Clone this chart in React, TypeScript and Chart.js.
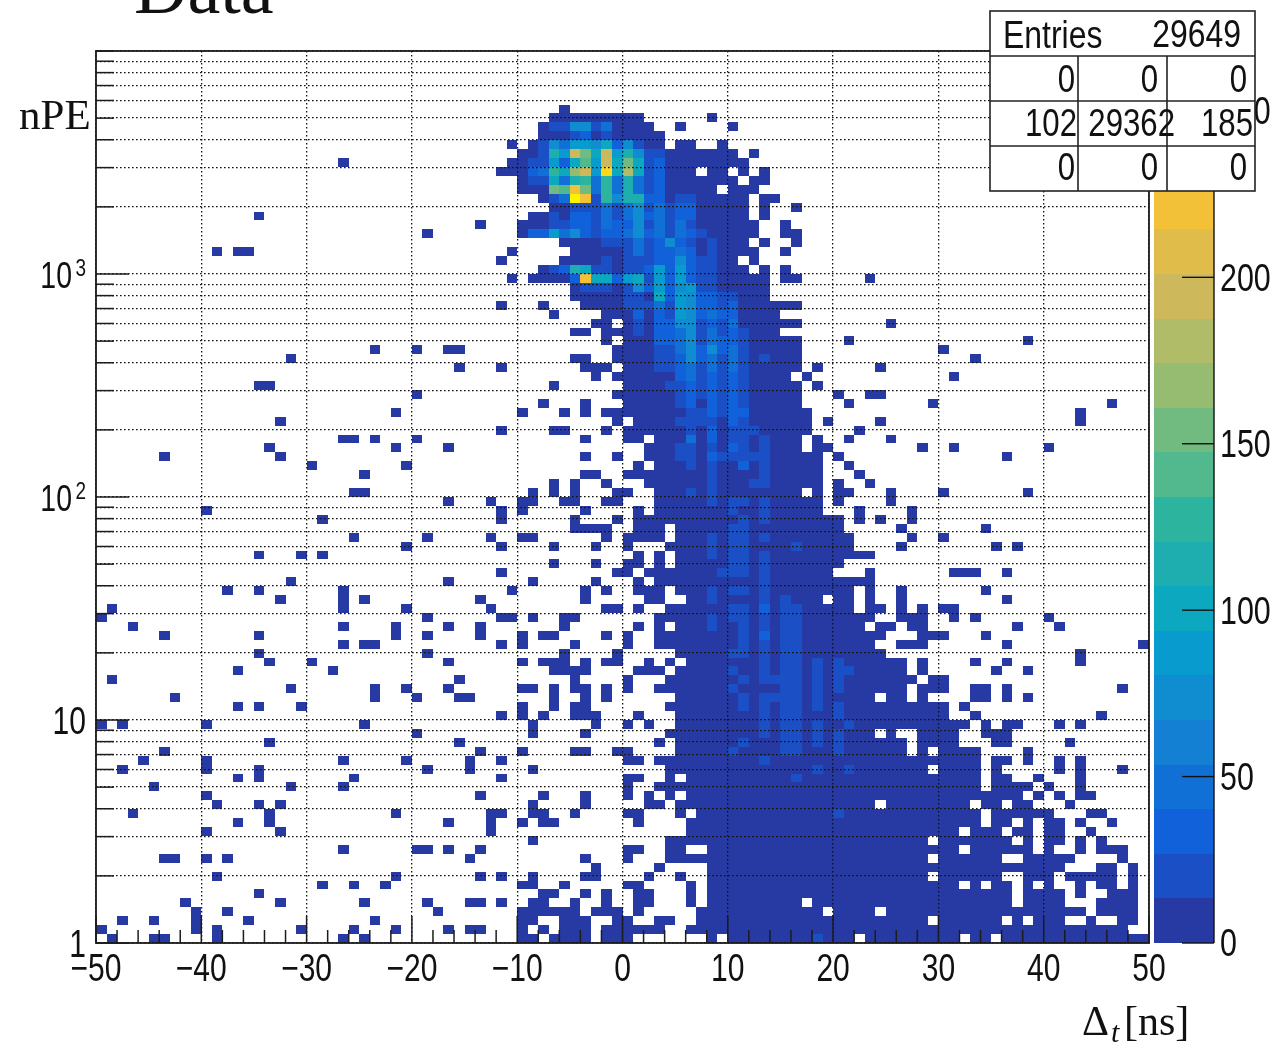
import React, { useEffect, useRef } from "react";
import { Chart, registerables } from "chart.js";

Chart.register(...registerables);

// occupied bins per log-y row (bottom row first), values are the low edge of the 1 ns time bin
const rowRuns: string[] = [
  "-49 -45..-44 -39 -27 -25 -10..-9 -7..-4 -2..0 8 10..21 23..31 33..34 36..49",
  "-50 -41 -39 -31 -26 -22 -17 -15..-14 -10 -8 -6..-4 -2..3 6..47",
  "-48 -45 -41 -36 -24 -10..-9 -6..-4 -1..0 3..4 7..28 30..35 37 39..41 44 47..48",
  "-41 -38 -18 -10..-5 -3..-1 1 7..18 20..23 25..43 45..48",
  "-42 -33 -25 -19 -15..-14 -12 -9..-8 -5 -2 1..2 6 8..16 18..36 38..41 45..48",
  "-35 -8..-7 -4 -2 1..2 6 8..36 38..41 43 46..48",
  "-29 -26 -23 -10..-9 -6 0..1 6 8..31 33 35..36 38 40 43 45..46 48",
  "-39 -22 -14 -12 -9 -4..-3 2 5 8..28 30..35 38..40 42..46 48",
  "-3 3 8..41 45..46 48",
  "-44..-43 -40 -38 -15 -4 0 4..28 30..35 38..42 47",
  "-27 -20..-19 -17 -14 0..1 4..5 8..31 33..38 40 43 45..47",
  "-9 4..28 30..36 38 40..41 43 45",
  "-40 -33 -13 6..31 33..35 37..38 40..41 44",
  "-37 -34 -17 -13 -10 -8..-7 1 6..33 35..36 38 40..41 43 46",
  "-47 -34 -22 -13..-12 -9..-8 -5 0..1 5 7..33 35..40 44..45",
  "-39 -35 -33 -9 -4 2..3 5..23 25..32 34..35 37..38 42",
  "-40 -14 -8 -4 0 2 4 6..37 39 41 43..44",
  "-45 -32 -27 0 3..33 35..38 40 43",
  "-37 -35 -26 -12 0..1 4 6..33 35..36 39 43",
  "-48 -40 -35 -19 -15 -9 4..28 30..33 35 41 43 47",
  "-46 -40 -27 -21 -15 -12 0..1 3..33 35..36 38 41 43",
  "-44 -14 -10 -5..-4 -1..0 5..26 28 30..33 38",
  "-34 -16 3 5..26 28..31 35..36 42",
  "-20 -9 -4 4..23 25 28..31 34..36",
  "-50 -48 -40 -25 -9 -3 0 2 5..32 34 36..37 41 43",
  "-12 -10 -8 -5..-3 1 5..30 33 45",
  "-37 -35 -31 -10 -7 -5..-4 4..30 32",
  "-43 -24 -20 -16..-15 -7 -4 -2 5..23 25..26 28 33..34 36 38",
  "-32 -24 -21 -17 -10..-9 -7 -5..-4 -2 0 3..26 28..30 33..34 36 47",
  "-49 -16 -5 0 4..27 29..30",
  "-37 -28 -7..-4 1..3 5..26 28 35 38",
  "-34 -30 -17 -10 -8..-6 -4 -2..-1 2 4 6..26 28 33 36 43",
  "-35 -19 -6 -1 5..24 43",
  "-27 -25..-24 -12 -10 -5 0 3..23 26..28 36 49",
  "-44 -35 -22 -19 -14 -10 -8..-7 -2 0 3..24 28..30 34",
  "-47 -27 -22 -17 -14 -6 1 3 5..22 24..25 27..28 37 41",
  "-50 -19 -12..-11 -9 -6..-5 3..23 26..28 31 33 40",
  "-49 -27 -21 -13 -2..-1 1 4..21 23..24 26 28 30..31",
  "-33 -27 -25 -14 -4 2..3 6..18 20..21 23 26 36",
  "-38 -35 -27 -11 -4 -2 1..3 5..21 23 26 34",
  "-32 -17 -9 -3 1 3..23",
  "-12 -1..0 2..19 23 31..33 36",
  "-7 -3 0..1 3 5..20",
  "-35 -31 -29 1 3 5..23",
  "-21 -12 -7 -3 0 4..21 26 35 37",
  "-26 -19 -13 -10..-9 -2 0..3 5..21 27 30",
  "-5..-2 1..3 5..20 26 34",
  "-29 -12 -5 -1 1..20 22 24 27",
  "-40 -12 -10 -4 1 3..18 22 27",
  "-17 -13 -10..-9 -6..-5 -2..-1 3..18 20 25",
  "-26..-25 -9 -7 -5 -1..0 3..16 18 20..21 25 30 38",
  "-7 -5 -2 2..18 20 23",
  "-25 -4..-3 0..18 22",
  "-30 -21 1 3..18 21",
  "-44 -33 -4 -1 2..18 20 36",
  "-34 -22 -17 2..16 18..19 28 31 40",
  "-27..-26 -24 -20 -4 0..1 3..16 18 21 25",
  "-12 -7..-6 -2 0..17 22",
  "-33 -1 1..17 19 24 43",
  "-22 -10 -6 -4 -2..17 43",
  "-8 -4 0..16 21 29 46",
  "-20 -1..16 20 23..24",
  "-35..-34 -7 0..16 18",
  "-3 -1..15 17 31",
  "-16 -12 -4..-2 0..16 18 24",
  "-32 -5..-4 -1..16 33",
  "-24 -20 -17..-16 -1..16 30",
  "-2 0..16 21 38",
  "-5..-4 -2..14",
  "-3..-2 0..16 25",
  "-7 -2..14",
  "-12 -8 -4..16",
  "-5..13",
  "-5..13",
  "-11 -9..13 15..16 23",
  "-8..11 13 15",
  "-12 -6..10 12",
  "-39 -37..-36 -11 -5..12 15",
  "-6..11 13 16",
  "-19 -10..12 15..16",
  "-14 -10..12 15",
  "-35 -9..11 13",
  "-7..11 13 16",
  "-8..11 13..14",
  "-10..8 10..12",
  "-10..10 12..13",
  "-12..6 8..9 11 13",
  "-27 -11..11",
  "-10..10 12",
  "-11 -9..3 5..6 9",
  "-8..3",
  "-8..2 5 10",
  "-7..1 8",
  "-6",
];

// estimated content class of the brighter bins, same row order: "timeBin:class"
const rowLevels: string[] = [
  "18:3", "", "", "", "", "", "", "", "", "", "", "", "", "",
  "20:3", "", "", "", "16:3", "18:3 21:3", "13:3",
  "10:3 15:3 16:3 20:3",
  "11:3 15:3 16:3 18:3 20:3",
  "13:3 15:3 16:3 18:3 20:3",
  "13:3 15:3 16:3 18:3 21:3",
  "13:3 15:3 16:3 20:3",
  "11:3 13:3 15:3 16:3 18:3 20:3",
  "11:3 13:3 14:3 15:3 16:3 18:3",
  "10:3 15:3 16:3 18:3 20:3",
  "11:3 13:3 14:3 15:3 16:3 18:3 20:3",
  "10:3 13:3 15:3 16:3 18:3 20:3 21:3",
  "13:3 15:3 16:3 18:3 20:3",
  "10:3 11:3 13:3 15:3 16:3",
  "11:3 13:3 15:3 16:3",
  "11:3 13:4 15:3 16:3",
  "8:3 11:3 13:3 15:3 16:3",
  "8:3 10:3 11:3 13:3 15:3 16:3",
  "10:3 11:3 13:4 15:3 16:3",
  "8:3 13:3 15:3",
  "8:3 10:2 11:2 13:3",
  "13:3",
  "9:3 10:3 11:3 13:3",
  "10:3 11:3 13:3",
  "8:2 10:3 11:3 13:3",
  "8:2 10:3 11:2 16:2",
  "8:2 10:3 11:2 13:2",
  "10:2 11:3",
  "11:3 13:2",
  "10:2 13:3",
  "8:3 10:2 11:3 13:3",
  "6:3 8:3",
  "8:3 12:3 13:3",
  "8:3 13:3",
  "6:3 8:3 11:4 13:3",
  "5:3 6:3 8:4 9:3 10:3 11:3 12:3 13:3",
  "5:3 6:3 8:3 10:4 11:2 13:3",
  "6:5 8:4 10:3 11:2 13:3",
  "6:2 8:4 10:3 11:2 12:2",
  "5:3 6:3 7:3 8:3 10:4 11:2",
  "6:3 7:3 8:4 9:3 10:4 11:4",
  "5:3 6:4 8:4 9:3 10:4 11:2",
  "5:3 6:4 7:3 8:4 9:3 10:4 11:3",
  "4:2 5:3 6:4 7:3 8:4 9:3 10:4 11:3",
  "5:4 6:5 7:3 8:4 9:3 10:4 11:3",
  "3:2 4:2 5:4 6:5 7:3 8:5 9:3 10:5 11:3",
  "3:3 4:3 5:4 6:6 7:4 8:5 9:3 10:5 11:3 13:2",
  "3:3 4:3 5:5 6:6 7:4 8:6 9:4 10:5 11:3",
  "3:4 4:4 5:5 6:6 7:3 8:5 9:4 10:4 11:3",
  "1:3 3:4 4:4 5:5 6:6 7:3 8:5 9:3 10:4 11:3",
  "1:3 3:4 4:4 5:6 6:6 7:3 8:4 9:3 10:5",
  "1:4 3:4 4:3 5:7 6:6 7:4 8:5 9:4 10:4",
  "0:3 1:3 2:3 3:5 4:3 5:7 6:6 7:4 8:4 9:3 10:4",
  "0:3 1:3 3:8 4:4 5:7 6:6 7:4 8:4 9:3 10:3",
  "-4:2 -3:2 -2:2 0:3 1:6 2:4 3:7 4:4 5:6 6:7 7:3 8:3",
  "-5:4 -4:18 -3:8 -2:8 -1:4 0:7 1:8 2:3 3:7 4:4 5:7 6:4 7:3 8:2",
  "-7:3 -6:4 -5:9 -4:8 -3:2 -2:3 0:3 1:3 2:4 3:7 4:4 5:7 6:4 7:3 8:2",
  "-2:2 0:3 1:3 2:2 3:4 4:4 5:6 6:4 7:3 8:2",
  "0:2 1:5 2:3 3:4 4:4 5:5 6:4 8:2",
  "-2:2 -1:2 0:3 1:5 2:3 3:4 4:6 5:4 6:3 8:2",
  "-9:4 -8:4 -7:7 -6:5 -5:6 -4:4 -3:2 -2:4 -1:4 0:5 1:6 2:4 3:5 4:3 5:5 6:4 7:2",
  "-7:2 -6:2 -5:4 -4:4 -3:3 -2:5 -1:4 0:4 1:6 2:3 3:5 4:3 5:5 6:3",
  "-7:2 -5:4 -4:4 -3:3 -2:5 -1:3 0:5 1:6 2:4 3:5 4:2 5:4 6:4",
  "-5:3 -4:3 -3:3 -2:5 -1:3 0:5 1:6 2:3 3:5 4:2 5:4 6:4",
  "-7:3 -6:5 -5:20 -4:18 -3:3 -2:10 -1:6 0:9 1:9 2:4 3:4 5:3 6:2",
  "-7:12 -6:11 -5:18 -4:12 -3:5 -2:10 -1:5 0:9 1:5 2:3 3:4",
  "-9:3 -8:3 -7:8 -6:5 -5:9 -4:10 -3:5 -2:10 -1:5 0:9 1:5 2:3 3:4",
  "-9:4 -8:5 -7:10 -6:8 -5:13 -4:15 -3:7 -2:19 -1:8 0:14 1:8 2:3 3:4",
  "-9:2 -8:2 -7:7 -6:4 -5:8 -4:11 -3:7 -2:15 -1:8 0:12 1:8 2:2 3:4",
  "-8:2 -7:9 -6:7 -5:15 -4:12 -3:8 -2:15 -1:7 0:9 1:6 2:3 3:3",
  "-8:2 -7:6 -6:5 -5:7 -4:7 -3:6 -2:8 -1:4 0:6 1:3",
  "-5:3 -4:4 -2:3",
  "-7:2 -6:2 -5:6 -4:6 -3:3 -2:5",
  "",
  "",
];

// class -> estimated bin content
const levelCounts: number[] = [0, 5, 18, 24, 36, 48, 72, 85, 100, 112, 125, 140, 155, 168, 180, 192, 205, 215, 222, 245, 262];
const defaultCount = 5;

const paletteColors: string[] = [
  "#273aa3", "#1a4fc6", "#1061da", "#1170d6", "#1480d3", "#0f8dd0", "#089bce", "#0ba8c0",
  "#1eaeb0", "#2db49f", "#52b98e", "#72bb80", "#95bc70", "#b0bc68", "#ceb85c", "#e0bc4a",
  "#f3c138", "#fbce20", "#fdd818", "#fff200",
];
const paletteMax = 268;
const paletteTicks: number[] = [0, 50, 100, 150, 200, 250];

const xMajor: number[] = [-50, -40, -30, -20, -10, 0, 10, 20, 30, 40, 50];
const xLabels: string[] = ["\u221250", "\u221240", "\u221230", "\u221220", "\u221210", "0", "10", "20", "30", "40", "50"];
const yTicks: number[] = [
  1, 2, 3, 4, 5, 6, 7, 8, 9, 10, 20, 30, 40, 50, 60, 70, 80, 90, 100, 200, 300, 400, 500, 600, 700, 800, 900,
  1000, 2000, 3000, 4000, 5000, 6000, 7000, 8000, 9000, 10000,
];
const yLabelValues: number[] = [1, 10, 100, 1000];
const yLabelBases: string[] = ["1", "10", "10", "10"];
const yLabelPowers: string[] = ["", "", "2", "3"];

const statsTop = "Entries";
const statsEntries = "29649";
const statsGrid: string[][] = [
  ["0", "0", "0"],
  ["102", "29362", "185"],
  ["0", "0", "0"],
];

const BINS_PER_DECADE = 25;
const SANS = '"Liberation Sans", sans-serif';
const SERIF = '"Liberation Serif", serif';

function buildCells() {
  const cells: { x: number; y: number; v: number; row: number }[] = [];
  rowRuns.forEach((run, row) => {
    const lv: Record<string, number> = {};
    (rowLevels[row] || "").split(" ").filter(Boolean).forEach((p) => {
      const i = p.lastIndexOf(":");
      lv[p.slice(0, i)] = levelCounts[+p.slice(i + 1)];
    });
    run.split(" ").filter(Boolean).forEach((part) => {
      const [a, b] = part.split("..").map(Number);
      const end = b === undefined ? a : b;
      for (let t = a; t <= end; t++) {
        cells.push({ x: t + 0.5, y: Math.pow(10, (row + 0.5) / BINS_PER_DECADE), v: lv[String(t)] ?? defaultCount, row });
      }
    });
  });
  return cells;
}

// ROOT's lettering is horizontally squeezed Helvetica
function squeezed(ctx: any, text: string, x: number, y: number, size: number, align: CanvasTextAlign, sx = 0.79) {
  ctx.save();
  ctx.font = `${size}px ${SANS}`;
  ctx.textAlign = align;
  ctx.textBaseline = "middle";
  ctx.fillStyle = "#111";
  ctx.translate(x, y);
  ctx.scale(sx, 1);
  ctx.fillText(text, 0, 0);
  ctx.restore();
}

const heatPlugin = {
  id: "heatCells",
  beforeDatasetsDraw(chart: any) {
    const { ctx, scales, chartArea } = chart;
    const bandSize = paletteMax / paletteColors.length;
    ctx.save();
    ctx.beginPath();
    ctx.rect(chartArea.left, chartArea.top, chartArea.width, chartArea.height);
    ctx.clip();
    chart.data.datasets[0].data.forEach((c: any) => {
      const x0 = Math.round(scales.x.getPixelForValue(c.x - 0.5));
      const x1 = Math.round(scales.x.getPixelForValue(c.x + 0.5));
      const y0 = Math.round(scales.y.getPixelForValue(Math.pow(10, c.row / BINS_PER_DECADE)));
      const y1 = Math.round(scales.y.getPixelForValue(Math.pow(10, (c.row + 1) / BINS_PER_DECADE)));
      ctx.fillStyle = paletteColors[Math.min(paletteColors.length - 1, Math.floor(c.v / bandSize))];
      ctx.fillRect(x0, y1, x1 - x0, y0 - y1);
    });
    ctx.restore();
  },
  afterDraw(chart: any) {
    const { ctx, scales, chartArea: a } = chart;
    ctx.save();
    // inward ticks
    ctx.strokeStyle = "#1c1c1c";
    ctx.lineWidth = 1.5;
    yTicks.forEach((v) => {
      const y = scales.y.getPixelForValue(v);
      const len = yLabelValues.includes(v) ? 33 : 18;
      ctx.beginPath();
      ctx.moveTo(a.left, y);
      ctx.lineTo(a.left + len, y);
      ctx.stroke();
    });
    for (let t = -50; t <= 50; t += 2) {
      const x = scales.x.getPixelForValue(t);
      const len = xMajor.includes(t) ? 27 : 13;
      ctx.beginPath();
      ctx.moveTo(x, a.bottom);
      ctx.lineTo(x, a.bottom - len);
      ctx.stroke();
    }
    ctx.lineWidth = 1.8;
    ctx.strokeRect(a.left, a.top, a.right - a.left, a.bottom - a.top);

    // axis labels
    xMajor.forEach((v, i) => squeezed(ctx, xLabels[i], scales.x.getPixelForValue(v), 971, 38, "center"));
    yLabelValues.forEach((v, i) => {
      const y = scales.y.getPixelForValue(v) + 4;
      if (yLabelPowers[i]) {
        squeezed(ctx, yLabelPowers[i], 86, y - 9, 24, "right");
        squeezed(ctx, yLabelBases[i], 72, y, 36, "right");
      } else {
        squeezed(ctx, yLabelBases[i], 86, y, 38, "right");
      }
    });

    // palette
    const px0 = 1154;
    const px1 = 1214;
    const bandSize = paletteMax / paletteColors.length;
    paletteColors.forEach((c, i) => {
      const yb = Math.round(scales.z.getPixelForValue(i * bandSize));
      const yt = Math.round(scales.z.getPixelForValue((i + 1) * bandSize));
      ctx.fillStyle = c;
      ctx.fillRect(px0, yt, px1 - px0, yb - yt);
    });
    ctx.strokeStyle = "#111";
    ctx.lineWidth = 1.4;
    ctx.beginPath();
    ctx.moveTo(px1, a.top);
    ctx.lineTo(px1, a.bottom);
    ctx.stroke();
    paletteTicks.forEach((v) => {
      const y = scales.z.getPixelForValue(v);
      ctx.beginPath();
      ctx.moveTo(1182, y);
      ctx.lineTo(px1, y);
      ctx.stroke();
      squeezed(ctx, String(v), 1220, y + 3, 38, "left", 0.8);
    });

    // titles
    ctx.textAlign = "left";
    ctx.textBaseline = "alphabetic";
    ctx.fillStyle = "#111";
    ctx.font = `74px ${SERIF}`;
    ctx.fillText("Data", 134, 13);
    ctx.font = `43px ${SERIF}`;
    ctx.fillText("nPE", 19, 129);
    ctx.font = `42px ${SERIF}`;
    ctx.fillText("\u0394", 1082, 1035);
    ctx.font = `italic 30px ${SERIF}`;
    ctx.fillText("t", 1111, 1042);
    ctx.font = `42px ${SERIF}`;
    ctx.fillText("[ns]", 1124, 1035);

    // stats box
    const bx0 = 990, bx1 = 1255, c1 = 1078, c2 = 1167;
    const rows = [11, 56, 101, 146, 191];
    ctx.fillStyle = "#fff";
    ctx.fillRect(bx0, rows[0], bx1 - bx0, rows[4] - rows[0]);
    ctx.strokeStyle = "#222";
    ctx.lineWidth = 1.6;
    ctx.strokeRect(bx0, rows[0], bx1 - bx0, rows[4] - rows[0]);
    rows.slice(1, 4).forEach((y) => {
      ctx.beginPath();
      ctx.moveTo(bx0, y);
      ctx.lineTo(bx1, y);
      ctx.stroke();
    });
    [c1, c2].forEach((x) => {
      ctx.beginPath();
      ctx.moveTo(x, rows[1]);
      ctx.lineTo(x, rows[4]);
      ctx.stroke();
    });
    squeezed(ctx, statsTop, 1003, 38, 38, "left", 0.84);
    squeezed(ctx, statsEntries, 1241, 37, 38, "right", 0.84);
    const rights = [[1075, 1158, 1247], [1077, 1175, 1253], [1075, 1158, 1247]];
    const ys = [82, 126, 170];
    statsGrid.forEach((r, ri) =>
      r.forEach((t, ci) => squeezed(ctx, t, rights[ri][ci], ys[ri], 38, "right", 0.82))
    );
    ctx.restore();
  },
};

export default function App() {
  const ref = useRef<HTMLCanvasElement | null>(null);
  useEffect(() => {
    const chart = new Chart(ref.current as HTMLCanvasElement, {
      type: "scatter",
      data: {
        datasets: [
          { label: "Data", data: buildCells() as any, pointRadius: 0, pointHoverRadius: 0, showLine: false, xAxisID: "x", yAxisID: "y" },
        ],
      },
      plugins: [heatPlugin as any],
      options: {
        responsive: false,
        animation: false,
        events: [],
        layout: { padding: { top: 51, right: 131, left: 0, bottom: 0 } },
        plugins: { legend: { display: false }, title: { display: false }, tooltip: { enabled: false } },
        scales: {
          x: {
            type: "linear",
            min: -50,
            max: 50,
            afterFit: (s: any) => { s.height = 102; },
            grid: { color: "#111", lineWidth: 1.3, drawTicks: false, z: 1 },
            border: { display: false, dash: [1.6, 2.4] },
            ticks: { display: false, stepSize: 10 },
          },
          y: {
            type: "logarithmic",
            min: 1,
            max: 10000,
            afterFit: (s: any) => { s.width = 96; },
            afterBuildTicks: (s: any) => { s.ticks = yTicks.map((value) => ({ value })); },
            grid: { color: "#111", lineWidth: 1.3, drawTicks: false, z: 1 },
            border: { display: false, dash: [1.6, 2.4] },
            ticks: { display: false },
          },
          z: { type: "linear", position: "right", display: false, min: 0, max: paletteMax },
        },
      },
    } as any);
    return () => chart.destroy();
  }, []);
  return (
    <canvas
      ref={ref}
      width={1280}
      height={1045}
      style={{ position: "fixed", left: 0, top: 0, width: 1280, height: 1045, display: "block" }}
    />
  );
}
